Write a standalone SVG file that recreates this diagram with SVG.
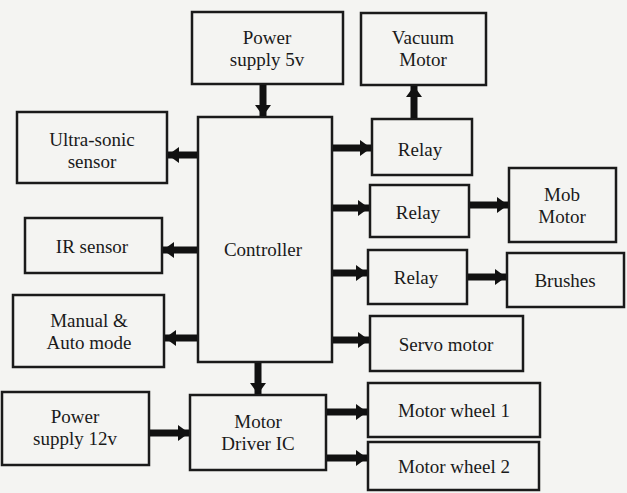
<svg xmlns="http://www.w3.org/2000/svg" width="627" height="493" viewBox="0 0 627 493">
<defs>
<marker id="ah" markerUnits="userSpaceOnUse" markerWidth="14" markerHeight="16" refX="11" refY="8" orient="auto">
<path d="M0,0 L11,8 L0,16 Z" fill="#111"/>
</marker>
<style>
.b{fill:none;stroke:#1a1a1a;stroke-width:2.5}
.t{font-family:'Liberation Serif',serif;font-size:19px;fill:#1a1a1a;text-anchor:middle}
.c line{stroke:#111;stroke-width:7;marker-end:url(#ah)}
</style>
</defs>
<rect width="627" height="493" fill="#f4f4f2"/>
<g id="ps5"><rect class="b" x="192" y="12" width="151" height="72"/><text class="t" x="267" y="44">Power</text><text class="t" x="267" y="66">supply 5v</text></g>
<g id="vacuum"><rect class="b" x="361" y="13" width="125" height="72"/><text class="t" x="423" y="44">Vacuum</text><text class="t" x="423" y="66">Motor</text></g>
<g id="controller"><rect class="b" x="198" y="117" width="134" height="245"/><text class="t" x="263" y="256">Controller</text></g>
<g id="ultrasonic"><rect class="b" x="17" y="112" width="150" height="71"/><text class="t" x="92" y="146">Ultra-sonic</text><text class="t" x="92" y="168">sensor</text></g>
<g id="ir"><rect class="b" x="25" y="218" width="137" height="55"/><text class="t" x="92" y="253">IR sensor</text></g>
<g id="manual"><rect class="b" x="13" y="295" width="151" height="72"/><text class="t" x="89" y="327">Manual &amp;</text><text class="t" x="89" y="349">Auto mode</text></g>
<g id="ps12"><rect class="b" x="2" y="392" width="147" height="73"/><text class="t" x="75" y="423">Power</text><text class="t" x="75" y="445">supply 12v</text></g>
<g id="driver"><rect class="b" x="190" y="395" width="136" height="75"/><text class="t" x="258" y="428">Motor</text><text class="t" x="258" y="450">Driver IC</text></g>
<g id="relay1"><rect class="b" x="372" y="119" width="100" height="56"/><text class="t" x="420" y="156">Relay</text></g>
<g id="relay2"><rect class="b" x="370" y="185" width="99" height="52"/><text class="t" x="418" y="219">Relay</text></g>
<g id="mob"><rect class="b" x="509" y="168" width="107" height="74"/><text class="t" x="562" y="201">Mob</text><text class="t" x="562" y="223">Motor</text></g>
<g id="relay3"><rect class="b" x="368" y="250" width="99" height="54"/><text class="t" x="416" y="284">Relay</text></g>
<g id="brushes"><rect class="b" x="507" y="253" width="117" height="54"/><text class="t" x="565" y="287">Brushes</text></g>
<g id="servo"><rect class="b" x="370" y="316" width="153" height="55"/><text class="t" x="446" y="351">Servo motor</text></g>
<g id="wheel1"><rect class="b" x="368" y="383" width="172" height="54"/><text class="t" x="454" y="417">Motor wheel 1</text></g>
<g id="wheel2"><rect class="b" x="368" y="442" width="171" height="48"/><text class="t" x="454" y="473">Motor wheel 2</text></g>
<g id="connectors" class="c">
<line x1="263" y1="85" x2="263" y2="116"/>
<line x1="414" y1="118" x2="414" y2="86"/>
<line x1="197" y1="155" x2="168" y2="155"/>
<line x1="197" y1="250" x2="163" y2="250"/>
<line x1="197" y1="338" x2="165" y2="338"/>
<line x1="333" y1="148" x2="371" y2="148"/>
<line x1="333" y1="208" x2="369" y2="208"/>
<line x1="333" y1="273" x2="367" y2="273"/>
<line x1="333" y1="340" x2="369" y2="340"/>
<line x1="470" y1="205" x2="508" y2="205"/>
<line x1="468" y1="277" x2="506" y2="277"/>
<line x1="258" y1="363" x2="258" y2="394"/>
<line x1="150" y1="433" x2="189" y2="433"/>
<line x1="327" y1="412" x2="367" y2="412"/>
<line x1="327" y1="458" x2="367" y2="458"/>
</g>
</svg>
